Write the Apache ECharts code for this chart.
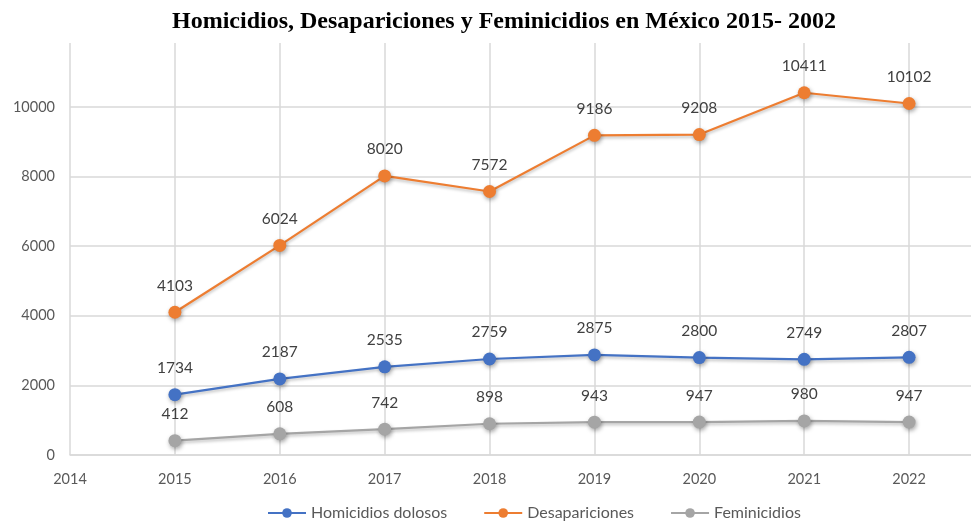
<!DOCTYPE html>
<html><head><meta charset="utf-8">
<script src="https://cdn.jsdelivr.net/npm/echarts@6/dist/echarts.min.js"></script>
<style>html,body{margin:0;padding:0;background:#fff}#c{width:971px;height:527px}</style>
</head><body><div id="c"></div>
<script>
const years = [2015, 2016, 2017, 2018, 2019, 2020, 2021, 2022];
const homicidios = [1734, 2187, 2535, 2759, 2875, 2800, 2749, 2807];
const desapariciones = [4103, 6024, 8020, 7572, 9186, 9208, 10411, 10102];
const feminicidios = [412, 608, 742, 898, 943, 947, 980, 947];
const seriesNames = ['Homicidios dolosos', 'Desapariciones', 'Feminicidios'];
const colors = ['#4472C4', '#ED7D31', '#A5A5A5'];

const chart = echarts.init(document.getElementById('c'));
function mk(name, vals, color) {
  return {
    name, type: 'line', data: years.map((y, i) => [y, vals[i]]),
    symbol: 'circle', symbolSize: 13,
    lineStyle: { color, width: 2.2, shadowColor: 'rgba(0,0,0,0.25)', shadowBlur: 3, shadowOffsetY: 2 },
    itemStyle: { color, shadowColor: 'rgba(0,0,0,0.35)', shadowBlur: 4, shadowOffsetX: 1, shadowOffsetY: 2 },
    label: { show: true, position: 'top', distance: 12, color: '#404040', fontSize: 15.5, fontFamily: 'Lato',
      formatter: p => p.value[1] },
    emphasis: { disabled: true }, animation: false
  };
}
chart.setOption({
  animation: false,
  color: colors,
  title: { text: 'Homicidios, Desapariciones y Feminicidios en México 2015- 2002', left: 167, top: 5,
    textStyle: { fontFamily: 'Liberation Serif', fontWeight: 'bold', fontSize: 24, color: '#000' } },
  grid: { left: 70, right: 0, top: 43, bottom: 72, containLabel: false },
  legend: { bottom: 1, left: 262, itemWidth: 38, itemHeight: 12, itemGap: 36,
    textStyle: { color: '#595959', fontSize: 16, fontFamily: 'Lato' },
    itemStyle: { shadowBlur: 0 }, lineStyle: { shadowBlur: 0, width: 2 },
    data: seriesNames },
  xAxis: { type: 'value', min: 2014, max: 2022.59, interval: 1,
    axisLine: { show: true, lineStyle: { color: '#d9d9d9', width: 1.5 } },
    axisTick: { show: false },
    axisLabel: { showMaxLabel: false, color: '#595959', fontSize: 14.5, fontFamily: 'Lato', margin: 17, formatter: v => String(v) },
    splitLine: { show: true, showMaxLine: false, lineStyle: { color: '#d9d9d9', width: 1.5 } } },
  yAxis: { type: 'value', min: 0, max: 11840, interval: 2000,
    axisLine: { show: false }, axisTick: { show: false },
    axisLabel: { showMaxLabel: false, color: '#595959', fontSize: 14.5, fontFamily: 'Lato', margin: 15, formatter: v => String(v) },
    splitLine: { show: true, showMaxLine: false, lineStyle: { color: '#d9d9d9', width: 1.5 } } },
  series: [mk(seriesNames[0], homicidios, colors[0]), mk(seriesNames[1], desapariciones, colors[1]), mk(seriesNames[2], feminicidios, colors[2])]
});
</script></body></html>
